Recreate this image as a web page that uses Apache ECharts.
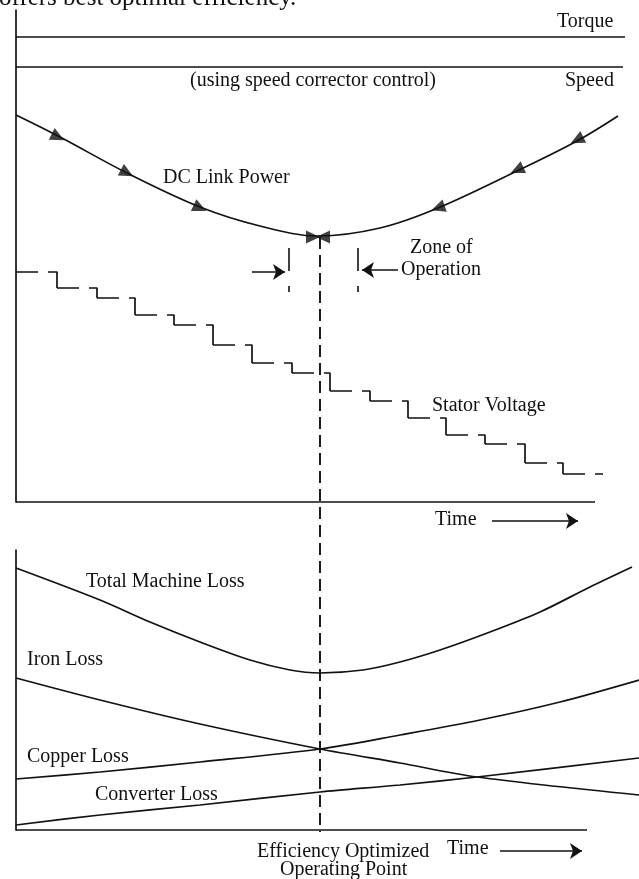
<!DOCTYPE html>
<html>
<head>
<meta charset="UTF-8"/>
<script type="text/javascript" src="https://cdn.jsdelivr.net/npm/echarts@6/dist/echarts.min.js"></script>
<title>Efficiency optimized operating point</title>
<style>
  html, body { margin: 0; padding: 0; background: #fff; }
  #main { width: 639px; height: 879px; }
</style>
</head>
<body>
<div id="main"></div>
<script type="text/javascript">
    // top panel (units: x = time, y = level)
    var torqueX = [0, 609], torqueY = [465, 465]
    var speedX = [0, 607], speedY = [435, 435]
    var timeAxisTop = [0, 579]
    var dcX = [0, 44, 111, 184, 244, 302, 364, 422, 501, 561, 602]
    var dcY = [387, 365, 329, 295, 276, 266, 274, 294, 331, 361, 386]
    // arrow heads sitting on the DC link power curve: x, y, direction (+1 right / -1 left)
    var dcArrowX = [42, 111, 184, 297, 307, 422, 501, 561]
    var dcArrowY = [365, 329, 294, 265, 265, 294, 332, 362]
    var dcArrowDir = [1, 1, 1, 1, -1, -1, -1, -1]
    // stator voltage staircase
    var stepX = [0, 41, 81, 119, 158, 197, 236, 276, 314, 354, 392, 430, 469, 509, 547, 587]
    var stepY = [230, 214, 204, 187, 177, 157, 139, 129, 111, 101, 84, 67, 58, 39, 28]
    // zone of operation
    var zoneX = [273, 342], zoneY = [254, 210]
    var zoneArrows = [[[236, 230], [269, 230]], [[382, 232], [346, 232]]]
    var optX = 304, optY = [265, -330]
    var timeArrowTop = [[476, -19], [562, -19]]

    // bottom panel (losses)
    var timeAxisBottom = [0, 571]
    var totalX = [0, 84, 134, 184, 234, 274, 304, 347, 384, 424, 474, 524, 574, 616]
    var totalY = [262, 230, 208, 188, 170, 160, 157, 160, 168, 180, 198, 218, 243, 263]
    var copperX = [0, 84, 184, 304, 384, 464, 544, 623]
    var copperY = [51, 58, 68, 81, 95, 110, 128, 150]
    var ironX = [0, 84, 184, 304, 384, 461, 623]
    var ironY = [152, 130, 106, 81, 67, 53, 35]
    var convX = [0, 84, 184, 304, 384, 461, 623]
    var convY = [5, 15, 25, 38, 45, 53, 72]
    var timeArrowBottom = [[484, -21], [566, -21]]

    var ink = '#111'
    var font = '"Liberation Serif", "Times New Roman", serif'

    function pairs(xs, ys) {
        return xs.map(function (x, i) { return [x, ys[i]] })
    }

    function curve(name, xs, ys, g, smooth) {
        return {
            name: name, type: 'line', xAxisIndex: g, yAxisIndex: g,
            data: pairs(xs, ys), smooth: smooth, symbol: 'none', clip: false,
            lineStyle: {color: ink, width: 1.7}, silent: true
        }
    }

    function arrow(coords, g) {
        return {
            type: 'lines', coordinateSystem: 'cartesian2d', xAxisIndex: g, yAxisIndex: g,
            clip: false, symbol: ['none', 'arrow'], symbolSize: 12, silent: true,
            lineStyle: {color: ink, width: 1.6, opacity: 1},
            data: [{coords: coords}]
        }
    }

    // rotation of each triangle so it points along the curve
    function slopeAt(x) {
        for (var i = 0; i < dcX.length - 1; i++) {
            if (x >= dcX[i] && x <= dcX[i + 1]) {
                return (dcY[i + 1] - dcY[i]) / (dcX[i + 1] - dcX[i])
            }
        }
        return 0
    }

    var arrowData = dcArrowX.map(function (x, i) {
        var d = dcArrowDir[i]
        var s = Math.abs(x - 302) < 12 ? 0 : slopeAt(x)
        var ang = Math.atan2(d * s, d) * 180 / Math.PI
        return {value: [x, dcArrowY[i]], symbolRotate: ang - 90}
    })

    var series = [
        curve('Time axis', timeAxisTop, [0, 0], 0, false),
        curve('Torque', torqueX, torqueY, 0, false),
        curve('Speed', speedX, speedY, 0, false),
        curve('DC Link Power', dcX, dcY, 0, 0.35),
        {
            type: 'scatter', xAxisIndex: 0, yAxisIndex: 0, clip: false, silent: true,
            symbol: 'triangle', symbolSize: [13, 14],
            itemStyle: {color: ink}, data: arrowData
        }
    ]

    // each stair step: long dash, gap, then short dash into the drop
    stepX.slice(0, -1).forEach(function (x, i) {
        var pts = [[x, stepY[i]], [stepX[i + 1], stepY[i]]]
        if (i + 1 < stepY.length) pts.push([stepX[i + 1], stepY[i + 1]])
        series.push({
            type: 'line', xAxisIndex: 0, yAxisIndex: 0, data: pts, symbol: 'none', silent: true,
            lineStyle: {color: ink, width: 1.7, type: [22, 10, 300]}
        })
    })

    zoneX.forEach(function (x) {
        series.push({
            type: 'line', xAxisIndex: 0, yAxisIndex: 0, symbol: 'none', silent: true,
            data: [[x, zoneY[0]], [x, zoneY[1]]],
            lineStyle: {color: ink, width: 1.6, type: [23, 15, 6, 200]}
        })
    })
    zoneArrows.forEach(function (c) { series.push(arrow(c, 0)) })
    series.push({
        type: 'line', xAxisIndex: 0, yAxisIndex: 0, symbol: 'none', silent: true, clip: false,
        data: [[optX, optY[0]], [optX, optY[1]]],
        lineStyle: {color: ink, width: 1.9, type: [12, 6]}
    })
    series.push(arrow(timeArrowTop, 0))

    series.push(curve('Time axis', timeAxisBottom, [0, 0], 1, false))
    series.push(curve('Total Machine Loss', totalX, totalY, 1, 0.3))
    series.push(curve('Iron Loss', ironX, ironY, 1, 0.3))
    series.push(curve('Copper Loss', copperX, copperY, 1, 0.3))
    series.push(curve('Converter Loss', convX, convY, 1, 0.3))
    series.push(arrow(timeArrowBottom, 1))

    function axis(max, g, showLine) {
        return {
            type: 'value', min: 0, max: max, gridIndex: g,
            axisLine: {show: showLine, lineStyle: {color: ink, width: 1.7}},
            axisTick: {show: false}, axisLabel: {show: false}, splitLine: {show: false}
        }
    }

    function label(text, x, y, size) {
        return {
            type: 'text', x: x, y: y, silent: true,
            style: {text: text, fill: '#111', font: (size || 20) + 'px ' + font, verticalAlign: 'middle'}
        }
    }

    var option = {
        animation: false,
        backgroundColor: '#fff',
        grid: [
            {left: 16, right: 14, top: 10, bottom: 377},
            {left: 16, right: 0, top: 550, bottom: 49}
        ],
        xAxis: [axis(609, 0, false), axis(623, 1, false)],
        yAxis: [axis(492, 0, true), axis(280, 1, true)],
        graphic: [
            label('offers best optimal efficiency.', -1, -2, 25),
            label('Torque', 557, 22),
            label('(using speed corrector control)', 190, 81),
            label('Speed', 565, 81),
            label('DC Link Power', 163, 178),
            label('Zone of', 410, 248),
            label('Operation', 401, 270),
            label('Stator Voltage', 432, 406),
            label('Time', 435, 520),
            label('Total Machine Loss', 86, 582),
            label('Iron Loss', 27, 660),
            label('Copper Loss', 27, 757),
            label('Converter Loss', 95, 795),
            label('Efficiency Optimized', 257, 852),
            label('Operating Point', 280, 870),
            label('Time', 447, 849)
        ],
        series: series
    }

    var myChart = echarts.init(document.getElementById('main'))
    myChart.setOption(option)
</script>
</body>
</html>
